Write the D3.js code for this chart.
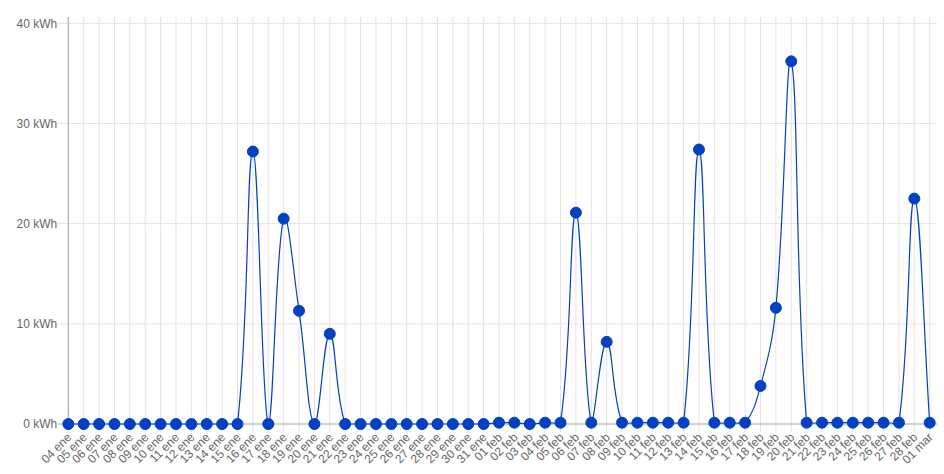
<!DOCTYPE html>
<html>
<head>
<meta charset="utf-8">
<script src="https://cdn.jsdelivr.net/npm/d3@7"></script>
<style>
  body { margin: 0; background: #fff; }
  svg text { font-family: Arial, "Liberation Sans", Helvetica, sans-serif; fill: #666; }
</style>
</head>
<body>
<svg id="chart" width="944" height="474"></svg>
<script>
// fechas del eje X
const days = [
  "04 ene", "05 ene", "06 ene", "07 ene", "08 ene", "09 ene", "10 ene", "11 ene", "12 ene", "13 ene",
  "14 ene", "15 ene", "16 ene", "17 ene", "18 ene", "19 ene", "20 ene", "21 ene", "22 ene", "23 ene",
  "24 ene", "25 ene", "26 ene", "27 ene", "28 ene", "29 ene", "30 ene", "31 ene",
  "01 feb", "02 feb", "03 feb", "04 feb", "05 feb", "06 feb", "07 feb", "08 feb", "09 feb", "10 feb",
  "11 feb", "12 feb", "13 feb", "14 feb", "15 feb", "16 feb", "17 feb", "18 feb", "19 feb", "20 feb",
  "21 feb", "22 feb", "23 feb", "24 feb", "25 feb", "26 feb", "27 feb", "28 feb", "01 mar"
];

// consumo diario (kWh)
const energy = [
  0, 0, 0, 0, 0, 0, 0, 0, 0, 0,
  0, 0, 27.2, 0, 20.5, 11.3, 0, 9.0, 0, 0,
  0, 0, 0, 0, 0, 0, 0, 0,
  0.13, 0.13, 0, 0.13, 0.13, 21.1, 0.13, 8.2, 0.13, 0.13,
  0.13, 0.13, 0.13, 27.4, 0.13, 0.13, 0.13, 3.8, 11.6, 36.2,
  0.13, 0.13, 0.13, 0.13, 0.13, 0.13, 0.13, 22.5, 0.13
];

const yTicks = [0, 10, 20, 30, 40];

const svg = d3.select("#chart");
const plotLeft = 68.3, plotRight = 929.7, plotTop = 23.3, plotBottom = 424;
const areaTop = 17, areaRight = 937;
const blue = "#0341c1";

const x = d3.scalePoint().domain(days).range([plotLeft, plotRight]).padding(0);
const y = d3.scaleLinear().domain([0, 40]).range([plotBottom, plotTop]);

// grid vertical
svg.append("g")
  .selectAll("line")
  .data(days)
  .join("line")
  .attr("x1", d => x(d)).attr("x2", d => x(d))
  .attr("y1", areaTop).attr("y2", plotBottom + 8)
  .attr("stroke", "#e3e3e3")
  .attr("stroke-width", 1);

// grid horizontal
svg.append("g")
  .selectAll("line")
  .data(yTicks)
  .join("line")
  .attr("x1", plotLeft - 10).attr("x2", areaRight)
  .attr("y1", d => y(d)).attr("y2", d => y(d))
  .attr("stroke", d => d === 0 ? "#a6a6a6" : "#e3e3e3")
  .attr("stroke-width", 1);

// eje Y
svg.append("line")
  .attr("x1", plotLeft).attr("x2", plotLeft)
  .attr("y1", areaTop).attr("y2", plotBottom)
  .attr("stroke", "#a6a6a6");

svg.append("g")
  .selectAll("text")
  .data(yTicks)
  .join("text")
  .attr("x", plotLeft - 11)
  .attr("y", d => y(d))
  .attr("dy", "0.35em")
  .attr("text-anchor", "end")
  .style("font-size", "12px")
  .text(d => d + " kWh");

// etiquetas eje X
svg.append("g")
  .selectAll("text")
  .data(days)
  .join("text")
  .attr("transform", d => `translate(${x(d) + 1},${plotBottom + 11}) rotate(-45)`)
  .attr("dy", "0.35em")
  .attr("text-anchor", "end")
  .style("font-size", "12px")
  .text(d => d);

// curva tipo spline (tension 0.4)
const pts = energy.map((v, i) => ({ x: x(days[i]), y: y(v) }));
const tension = 0.4;
const clampX = v => Math.max(plotLeft, Math.min(areaRight, v));
const clampY = v => Math.max(areaTop, Math.min(plotBottom, v));
pts.forEach((p, i) => {
  const prev = pts[i - 1] || p, next = pts[i + 1] || p;
  const d01 = Math.hypot(p.x - prev.x, p.y - prev.y);
  const d12 = Math.hypot(next.x - p.x, next.y - p.y);
  let s01 = d01 / (d01 + d12), s12 = d12 / (d01 + d12);
  if (isNaN(s01)) s01 = 0;
  if (isNaN(s12)) s12 = 0;
  const fa = tension * s01, fb = tension * s12;
  p.cpPrev = { x: clampX(p.x - fa * (next.x - prev.x)), y: clampY(p.y - fa * (next.y - prev.y)) };
  p.cpNext = { x: clampX(p.x + fb * (next.x - prev.x)), y: clampY(p.y + fb * (next.y - prev.y)) };
});

const path = d3.path();
path.moveTo(pts[0].x, pts[0].y);
for (let i = 1; i < pts.length; i++) {
  const a = pts[i - 1], b = pts[i];
  path.bezierCurveTo(a.cpNext.x, a.cpNext.y, b.cpPrev.x, b.cpPrev.y, b.x, b.y);
}

svg.append("path")
  .attr("d", path.toString())
  .attr("fill", "none")
  .attr("stroke", blue)
  .attr("stroke-width", 1.2);

// puntos
svg.append("g")
  .selectAll("circle")
  .data(energy)
  .join("circle")
  .attr("cx", (d, i) => x(days[i]))
  .attr("cy", d => y(d))
  .attr("r", 5.5)
  .attr("fill", blue)
  .attr("stroke", blue)
  .attr("stroke-width", 1);
</script>
</body>
</html>
